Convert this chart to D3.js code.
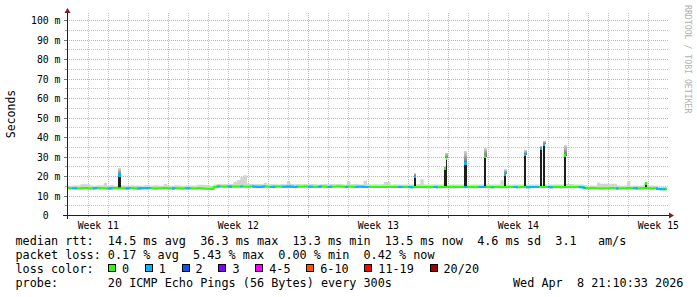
<!DOCTYPE html>
<html>
<head>
<meta charset="utf-8">
<script src="https://cdn.jsdelivr.net/npm/d3@7"></script>
<style>
  html, body { margin: 0; padding: 0; background: #fff; }
  svg { display: block; font-family: "DejaVu Sans Mono", monospace; }
  text { white-space: pre; }
</style>
</head>
<body>
<div id="chart"></div>
<script>
// time window of the graph (UTC)
const startTime = Date.UTC(2026, 2, 9, 22, 24);
const endTime = Date.UTC(2026, 3, 8, 23, 36);
const bucketHours = 4;

// median rtt in ms, one value per 4 hours (6 per day)
const median = [
  13.8,13.7,13.7,13.6,13.7,13.8, 13.7,13.6,13.7,13.8,13.7,13.7,
  13.6,13.7,13.8,13.7,13.7,13.6, 13.7,13.8,13.7,13.6,13.7,13.7,
  13.8,13.7,13.6,13.7,13.7,13.8, 13.7,13.6,13.7,13.7,13.6,13.7,
  13.7,13.6,13.6,13.7,13.6,13.5, 13.4,13.3,14.4,14.6,14.6,14.5,
  14.6,14.5,14.6,14.5,14.6,14.5, 14.5,14.6,14.5,14.4,14.5,14.6,
  14.5,14.4,14.5,14.6,14.5,14.5, 14.6,14.5,14.4,14.5,14.5,14.6,
  14.5,14.5,14.4,14.5,14.6,14.5, 14.4,14.5,14.5,14.6,14.5,14.4,
  14.5,14.5,14.4,14.5,14.5,14.4, 14.4,14.3,14.4,14.4,14.3,14.4,
  14.3,14.4,14.3,14.3,14.4,14.3, 14.3,14.2,14.3,14.4,14.3,14.3,
  14.2,14.3,14.3,14.2,14.3,14.3, 14.3,14.2,14.3,14.3,14.4,14.3,
  14.3,14.3,14.2,14.3,14.3,14.4, 14.3,14.2,14.3,14.3,14.2,14.3,
  14.3,14.4,14.3,14.2,14.3,14.3, 14.2,14.3,14.3,14.4,14.3,14.3,
  14.3,14.2,14.3,14.3,14.2,14.3, 14.3,14.2,14.3,14.3,14.2,13.8,
  13.7,13.8,13.7,13.7,13.6,13.7, 13.7,13.8,13.7,13.6,13.7,13.7,
  13.8,13.7,13.7,13.6,13.7,13.8, 13.7,13.6,13.7,13.3,13.2,13.2
];

// upper edge of the grey smoke, ms, same 4 hour steps
const smokeTop = [
  15.1,15.0,15.2,15.1,15.8,15.8, 15.8,15.1,15.0,15.2,15.1,16.4,
  15.1,15.2,15.0,15.1,15.2,15.1, 15.0,15.2,15.1,15.1,15.0,15.2,
  15.1,15.0,15.2,15.1,15.0,15.9, 15.1,15.0,15.2,15.1,15.0,15.1,
  15.0,15.1,15.0,15.5,15.5,15.4, 15.3,15.0,15.7,15.9,15.8,15.9,
  15.8,15.9,17.0,17.8,19.5,20.4, 16.2,15.9,15.8,15.9,15.8,16.6,
  15.8,15.9,15.8,15.7,15.9,15.8, 17.4,15.9,15.8,15.9,15.8,15.9,
  15.8,15.9,15.8,15.7,15.8,15.9, 15.8,15.9,15.8,15.9,15.8,15.7,
  17.2,15.8,15.9,15.8,15.7,17.6, 15.8,15.7,15.8,15.7,15.8,16.9,
  16.9,15.7,15.8,15.7,15.6,15.7, 15.7,15.6,15.7,15.8,18.3,15.7,
  15.6,15.7,15.6,15.7,15.6,17.0, 15.7,15.6,15.7,15.6,15.7,15.6,
  15.7,15.6,15.7,15.6,15.7,15.7, 15.6,15.7,15.6,15.7,17.8,15.6,
  15.7,15.6,15.7,15.6,15.7,15.6, 15.6,15.7,15.6,15.7,15.6,15.7,
  15.7,15.6,15.7,15.6,15.7,15.9, 15.9,15.9,15.6,15.7,15.6,15.2,
  15.0,15.1,15.0,16.5,16.0,16.0, 16.0,16.0,16.0,15.1,15.0,15.1,
  17.3,15.0,15.1,15.0,15.1,16.5, 15.0,15.1,15.0,14.6,14.5,14.5
];

// periods (hours from start) where 1 of 20 pings was lost
const lossOne = [
  [6,12],[31,36],[49,55],[70,76],[84,100],[126,130],[142,148],[180,184],
  [193,198],[208,211],[222,238],[244,250],[258,277],[289,295],[301,306],
  [313,318],[334,337],[346,362],[397,403],[409,415],[440,445],[476,481],
  [494,503],[509,512],[536,541],[551,566],[577,583],[614,623],[659,662],
  [679,685],[707,719]
];

// short latency spikes (hours from start, ms)
const spikeStart = [61.6, 416.4, 452.4, 454.4, 476.8, 500.8, 524.8, 548.8, 567.6, 571.6, 596.4, 693.6];
const spikeEnd   = [64.4, 418.4, 453.6, 456.4, 479.6, 502.8, 526.8, 550.8, 569.2, 573.6, 598.8, 694.8];
const spikePeak  = [20.5, 20.0, 24.0, 29.0, 26.5, 30.0, 21.0, 30.8, 34.2, 36.3, 30.4, 16.2];
const spikeTop   = [24.0, 21.5, 25.0, 32.0, 33.0, 34.5, 23.5, 33.5, 35.5, 38.0, 36.0, 16.8];
const spikeLoss  = [1, 1, 0, 0, 1, 0, 1, 1, 1, 1, 0, 0];

const yTickValues = [0, 10, 20, 30, 40, 50, 60, 70, 80, 90, 100];

const lossColors = ["#26ff00", "#00b8ff", "#0059ff", "#7e00ff", "#ff00ff", "#ff5500", "#ff0000", "#a10000"];
const lossLabels = ["0", "1", "2", "3", "4-5", "6-10", "11-19", "20/20"];

const statLines = [
  "median rtt:  14.5 ms avg  36.3 ms max  13.3 ms min  13.5 ms now  4.6 ms sd  3.1   am/s",
  "packet loss: 0.17 % avg  5.43 % max  0.00 % min  0.42 % now",
  "loss color:",
  "probe:       20 ICMP Echo Pings (56 Bytes) every 300s"
];
const dateText = "Wed Apr  8 21:10:33 2026";

const W = 697, H = 297;
const plot = { left: 67, right: 668, top: 13, bottom: 215 };

const svg = d3.select("#chart").append("svg")
  .attr("width", W)
  .attr("height", H);

svg.append("rect").attr("width", W).attr("height", H).attr("fill", "#fff");

const grad = svg.append("defs").append("linearGradient")
  .attr("id", "smokeGrad")
  .attr("x1", 0).attr("y1", 0).attr("x2", 0).attr("y2", 1);
grad.append("stop").attr("offset", "0%").attr("stop-color", "#dadada");
grad.append("stop").attr("offset", "100%").attr("stop-color", "#6a6a6a");

const x = d3.scaleUtc()
  .domain([new Date(startTime), new Date(endTime)])
  .range([plot.left, plot.right]);
const hx = (h) => x(new Date(startTime + h * 36e5));
const y = d3.scaleLinear().domain([0, 100]).range([plot.bottom, 20]);
const px = (v) => Math.round(v) + 0.5;

// grid
const grid = svg.append("g").attr("shape-rendering", "crispEdges");
const t0 = new Date(startTime), t1 = new Date(endTime);
const weeks = d3.utcSunday.range(t0, t1);
const days = d3.utcDay.range(t0, t1)
  .filter((d) => d.getUTCDay() !== 0 && x(d) > plot.left + 2);

grid.selectAll(".hmin").data(d3.range(5, 100, 10)).join("line")
  .attr("x1", plot.left).attr("x2", plot.right)
  .attr("y1", (d) => px(y(d))).attr("y2", (d) => px(y(d)))
  .attr("stroke", "#c4c4c4").attr("stroke-dasharray", "1,1");
grid.selectAll(".vmin").data(days).join("line")
  .attr("x1", (d) => px(x(d))).attr("x2", (d) => px(x(d)))
  .attr("y1", plot.top).attr("y2", plot.bottom)
  .attr("stroke", "#c4c4c4").attr("stroke-dasharray", "1,1");
grid.selectAll(".hmaj").data(yTickValues.slice(1)).join("line")
  .attr("x1", plot.left).attr("x2", plot.right)
  .attr("y1", (d) => px(y(d))).attr("y2", (d) => px(y(d)))
  .attr("stroke", "#eaa0a0").attr("stroke-dasharray", "1,1");
grid.selectAll(".vmaj").data(weeks).join("line")
  .attr("x1", (d) => px(x(d))).attr("x2", (d) => px(x(d)))
  .attr("y1", plot.top).attr("y2", plot.bottom)
  .attr("stroke", "#eaa0a0").attr("stroke-dasharray", "1,1");

// small ticks outside the plot
grid.selectAll(".tmin").data(d3.range(5, 100, 10)).join("line")
  .attr("x1", plot.left - 2).attr("x2", plot.left)
  .attr("y1", (d) => px(y(d))).attr("y2", (d) => px(y(d)))
  .attr("stroke", "#aaa");
grid.selectAll(".tmaj").data(yTickValues.slice(1)).join("line")
  .attr("x1", plot.left - 3).attr("x2", plot.left)
  .attr("y1", (d) => px(y(d))).attr("y2", (d) => px(y(d)))
  .attr("stroke", "#777");
grid.selectAll(".txd").data(days).join("line")
  .attr("x1", (d) => px(x(d))).attr("x2", (d) => px(x(d)))
  .attr("y1", plot.bottom).attr("y2", plot.bottom + 2)
  .attr("stroke", "#aaa");
grid.selectAll(".txw").data(weeks).join("line")
  .attr("x1", (d) => px(x(d))).attr("x2", (d) => px(x(d)))
  .attr("y1", plot.bottom).attr("y2", plot.bottom + 3)
  .attr("stroke", "#777");

// smoke
const steps = median.map((m, i) => ({ h: i * bucketHours, m, s: smokeTop[i] }));
steps.push({ h: median.length * bucketHours, m: median[median.length - 1], s: smokeTop[smokeTop.length - 1] });

svg.append("path")
  .datum(steps)
  .attr("fill", "#d4d4d4")
  .attr("d", d3.area().curve(d3.curveStepAfter)
    .x((d) => hx(d.h)).y0((d) => y(d.m)).y1((d) => y(d.s)));

// spikes: grey smoke above, dark smoke bar
const spikeIdx = d3.range(spikeStart.length);
const spikes = svg.append("g").attr("shape-rendering", "crispEdges");
spikes.selectAll(".stop").data(spikeIdx).join("rect")
  .attr("x", (i) => hx(spikeStart[i]) - 0.5)
  .attr("width", (i) => Math.max(2, hx(spikeEnd[i]) - hx(spikeStart[i]) + 1))
  .attr("y", (i) => y(spikeTop[i]))
  .attr("height", (i) => y(spikePeak[i]) - y(spikeTop[i]))
  .attr("fill", "url(#smokeGrad)");
spikes.selectAll(".sbar").data(spikeIdx).join("rect")
  .attr("x", (i) => hx(spikeStart[i]))
  .attr("width", (i) => Math.max(1.5, hx(spikeEnd[i]) - hx(spikeStart[i])))
  .attr("y", (i) => y(spikePeak[i]))
  .attr("height", (i) => y(median[Math.floor(spikeStart[i] / bucketHours)]) - y(spikePeak[i]))
  .attr("fill", "#1e1e1e");

// median line coloured by loss
const medianLine = d3.line().curve(d3.curveStepAfter)
  .x((d) => hx(d.h)).y((d) => y(d.m));

svg.append("path")
  .datum(steps)
  .attr("fill", "none")
  .attr("stroke", lossColors[0])
  .attr("stroke-width", 2)
  .attr("d", medianLine);

const lossSegments = lossOne.map(([h0, h1]) => {
  const pts = [{ h: h0, m: median[Math.floor(h0 / bucketHours)] }];
  for (let b = Math.ceil(h0 / bucketHours) * bucketHours; b < h1; b += bucketHours) {
    if (b > h0) pts.push({ h: b, m: median[b / bucketHours] });
  }
  pts.push({ h: h1, m: median[Math.min(median.length - 1, Math.floor((h1 - 0.01) / bucketHours))] });
  return pts;
});
svg.append("g").selectAll("path").data(lossSegments).join("path")
  .attr("fill", "none")
  .attr("stroke", lossColors[1])
  .attr("stroke-width", 2)
  .attr("d", medianLine);

spikes.selectAll(".stip").data(spikeIdx).join("rect")
  .attr("x", (i) => hx(spikeStart[i]))
  .attr("width", (i) => Math.max(1.5, hx(spikeEnd[i]) - hx(spikeStart[i])))
  .attr("y", (i) => y(spikePeak[i]) - 1.5)
  .attr("height", 3)
  .attr("fill", (i) => lossColors[spikeLoss[i]]);

// axes
const axes = svg.append("g").attr("shape-rendering", "crispEdges");
axes.append("line")
  .attr("x1", plot.left - 4).attr("x2", plot.right + 2)
  .attr("y1", plot.bottom + 0.5).attr("y2", plot.bottom + 0.5)
  .attr("stroke", "#1f1f1f");
axes.append("line")
  .attr("x1", plot.left + 0.5).attr("x2", plot.left + 0.5)
  .attr("y1", plot.bottom + 4).attr("y2", plot.top)
  .attr("stroke", "#1f1f1f");
svg.append("polygon")
  .attr("points", `${plot.left - 2.5},${plot.top} ${plot.left + 3.5},${plot.top} ${plot.left + 0.5},${plot.top - 5}`)
  .attr("fill", "#7f1f1f");
svg.append("polygon")
  .attr("points", `${plot.right + 1},${plot.bottom - 2.5} ${plot.right + 1},${plot.bottom + 3.5} ${plot.right + 6},${plot.bottom + 0.5}`)
  .attr("fill", "#7f1f1f");

// y tick labels
svg.append("g").selectAll("text").data(yTickValues).join("text")
  .attr("x", 60.5)
  .attr("y", (d) => px(y(d)))
  .attr("dy", "0.36em")
  .attr("text-anchor", "end")
  .attr("xml:space", "preserve")
  .style("font-size", "9.8px")
  .attr("fill", "#000")
  .text((d) => (d === 0 ? "0  " : `${d} m`));

// week labels
const weekLabels = d3.utcWednesday.range(t0, t1).map((d) => d3.utcHour.offset(d, 12));
svg.append("g").selectAll("text").data(weekLabels).join("text")
  .attr("x", (d) => x(d))
  .attr("y", 228.5)
  .attr("text-anchor", "middle")
  .style("font-size", "9.8px")
  .attr("fill", "#000")
  .text((d) => "Week " + d3.utcFormat("%V")(d));

// axis title
svg.append("text")
  .attr("transform", "translate(15,114) rotate(-90)")
  .attr("text-anchor", "middle")
  .style("font-size", "11.5px")
  .attr("fill", "#000")
  .text("Seconds");

// watermark
svg.append("text")
  .attr("transform", "translate(685,5) rotate(90)")
  .style("font-size", "8.2px")
  .attr("fill", "#b0b0b0")
  .text("RRDTOOL / TOBI OETIKER");

// legend text
const legendFont = 11.8;
const charW = 7.1;
svg.append("g").selectAll("text").data(statLines).join("text")
  .attr("x", 15.5)
  .attr("y", (d, i) => 245 + i * 14)
  .attr("xml:space", "preserve")
  .style("font-size", `${legendFont}px`)
  .attr("fill", "#000")
  .text((d) => d);

svg.append("text")
  .attr("x", 513)
  .attr("y", 287)
  .attr("xml:space", "preserve")
  .style("font-size", `${legendFont}px`)
  .attr("fill", "#000")
  .text(dateText);

let bx = 108.5;
const legendItems = lossLabels.map((label, i) => {
  const item = { label, color: lossColors[i], x: bx };
  bx += 29.7 + label.length * charW;
  return item;
});
const lg = svg.append("g");
lg.selectAll("rect").data(legendItems).join("rect")
  .attr("x", (d) => d.x)
  .attr("y", 264.5)
  .attr("width", 7)
  .attr("height", 7)
  .attr("fill", (d) => d.color)
  .attr("stroke", "#000")
  .attr("shape-rendering", "crispEdges");
lg.selectAll("text").data(legendItems).join("text")
  .attr("x", (d) => d.x + 13.5)
  .attr("y", 273)
  .style("font-size", `${legendFont}px`)
  .attr("fill", "#000")
  .text((d) => d.label);
</script>
</body>
</html>
